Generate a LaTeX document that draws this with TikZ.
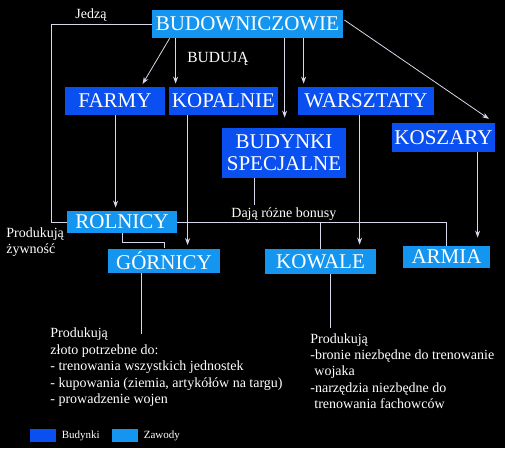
\documentclass[tikz,border=0pt]{standalone}
\usepackage{fontspec}
\setmainfont{Liberation Serif}
\usetikzlibrary{calc,arrows.meta,positioning}
\definecolor{budynek}{RGB}{10,80,240}
\definecolor{zawod}{RGB}{20,150,240}
\definecolor{linia}{RGB}{215,215,235}

\begin{document}
\begin{tikzpicture}[x=1pt, y=-1pt, line width=0.8pt, draw=linia,
  box/.style={inner sep=0pt, text=white, font=\fontsize{21}{22}\selectfont},
  bud/.style={box, fill=budynek},
  zaw/.style={box, fill=zawod},
  opis/.style={text=white, font=\fontsize{14}{16.4}\selectfont, align=left, inner sep=0pt},
  strz/.style={-{Stealth[length=7pt,width=5pt]}, shorten >=3pt}]
  \fill[black] (0,0) rectangle (505,448);
  % budynki i zawody
  \node[zaw, minimum width=191pt, minimum height=28pt] (budow) at (247.5,24) {BUDOWNICZOWIE};
  \node[bud, minimum width=100pt, minimum height=28pt] (farmy) at (115,101) {FARMY};
  \node[bud, minimum width=109pt, minimum height=28pt] (kopalnie) at (223.5,101) {KOPALNIE};
  \node[bud, minimum width=136pt, minimum height=28pt] (warsztaty) at (366,101) {WARSZTATY};
  \node[bud, minimum width=124pt, minimum height=50pt, align=center] (budynki) at (284,153) {BUDYNKI\\SPECJALNE};
  \node[bud, minimum width=103pt, minimum height=29pt] (koszary) at (443.5,137.5) {KOSZARY};
  \node[zaw, minimum width=110pt, minimum height=22pt] (rolnicy) at (122,222) {ROLNICY};
  \node[zaw, minimum width=112pt, minimum height=24pt] (gornicy) at (164,260.5) {GÓRNICY};
  \node[zaw, minimum width=111pt, minimum height=25pt] (kowale) at (320.5,261.5) {KOWALE};
  \node[zaw, minimum width=87pt, minimum height=22pt] (armia) at (446.5,257) {ARMIA};
  % budowniczowie buduja
  \draw[strz] ($(budow.south west)+(18,0)$) -- ($(farmy.north)+(26,0)$);
  \foreach \dx/\cel/\skr in {24/kopalnie/3, 133/budynki/10, 152/warsztaty/3}{
    \draw[strz, shorten >=\skr pt] ($(budow.south west)+(\dx,0)$) coordinate (b) -- (b |- \cel.north);
  }
  \draw[strz] ($(budow.east)+(1,-4)$) -- ($(koszary.north east)+(-4,-2)$);
  \draw (budow.west) -- ++(-100,0) |- (rolnicy.west);
  % budynki daja zawody
  \foreach \od/\cel/\dx/\skr in {farmy/rolnicy/51/3, kopalnie/gornicy/19/3, warsztaty/kowale/62/4, koszary/armia/86/8}{
    \draw[strz, shorten >=\skr pt] ($(\od.south west)+(\dx,0)$) coordinate (z) -- (z |- \cel.north);
  }
  \draw ($(budynki.south west)+(33,0)$) -- ++(0,27);
  \draw (rolnicy.east) -- (armia.north |- rolnicy.east) -- (armia.north);
  \draw (kowale.north |- rolnicy.east) -- (kowale.north);
  \draw (rolnicy.south) -- ++(0,9) -| (gornicy.north);
  \draw ($(gornicy.south west)+(34,0)$) -- ++(0,61);
  \draw ($(kowale.south west)+(66,0)$) -- ++(0,54);
  % opisy
  \node[opis, anchor=base west] (jedza) at (75,18) {Jedzą};
  \node[opis, anchor=base west, font=\fontsize{15.5}{17}\selectfont] (buduja) at (187,62) {BUDUJĄ};
  \node[opis, anchor=base west] (bonusy) at (231,217) {Dają różne bonusy};
  \node[opis, anchor=north west, font=\fontsize{14}{16}\selectfont] (zywnosc) at (6,227.4) {Produkują\\żywność};
  \node[opis, anchor=north west, font=\fontsize{14}{16.5}\selectfont] (zloto) at (50,327.4)
    {Produkują\\złoto potrzebne do:\\- trenowania wszystkich jednostek\\- kupowania (ziemia, artykółów na targu)\\- prowadzenie wojen};
  \node[opis, anchor=north west, font=\fontsize{14}{16.2}\selectfont] (bronie) at (310,333.4)
    {Produkują\\-bronie niezbędne do trenowanie\\\hspace{4pt}wojaka\\-narzędzia niezbędne do\\\hspace{4pt}trenowania fachowców};
  % legenda
  \node[bud, minimum width=26pt, minimum height=13pt] (legbud) at (43,435.5) {};
  \node[opis, font=\fontsize{11}{13}\selectfont, right=5pt of legbud] (legbudt) {Budynki};
  \node[zaw, minimum width=26pt, minimum height=13pt] (legzaw) at (125,435.5) {};
  \node[opis, font=\fontsize{11}{13}\selectfont, right=5pt of legzaw] (legzawt) {Zawody};
\end{tikzpicture}
\end{document}
